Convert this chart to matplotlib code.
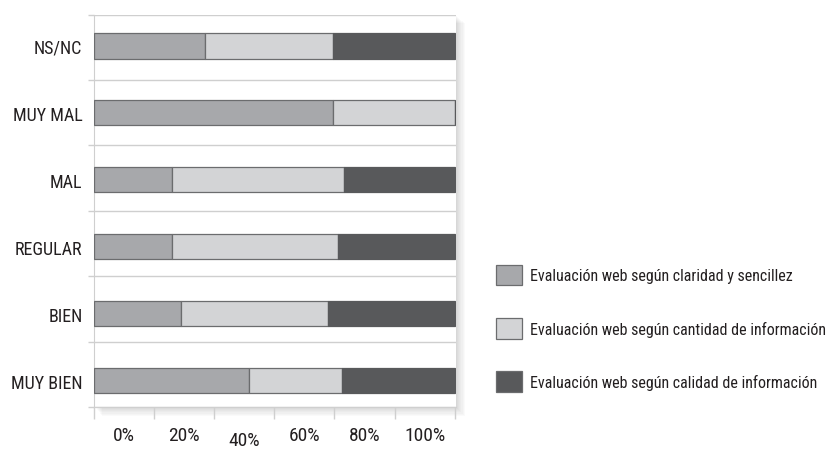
import matplotlib
matplotlib.use("Agg")
import matplotlib.pyplot as plt
from matplotlib.patches import Rectangle, Patch
import numpy as np

plt.rcParams["font.family"] = ["Roboto Condensed", "Archivo Narrow", "PT Sans Narrow",
                               "Liberation Sans Narrow", "Liberation Sans", "DejaVu Sans"]

categorias = ["MUY BIEN", "BIEN", "REGULAR", "MAL", "MUY MAL", "NS/NC"]
claridad = [42.9, 24.3, 21.7, 21.7, 66.2, 30.8]
cantidad = [25.9, 40.7, 46.1, 47.5, 33.8, 35.4]
calidad = [31.2, 35.0, 32.2, 30.8, 0.0, 33.8]
series = ["Evaluación web según claridad y sencillez",
          "Evaluación web según cantidad de información",
          "Evaluación web según calidad de información"]
etiquetas_x = ["0%", "20%", "40%", "60%", "80%", "100%"]

colores = ["#a7a8ab", "#d3d4d6", "#58595b"]
borde = "#6b6c6e"
gris_rejilla = "#cfcfcf"
texto = "#231f20"

fig = plt.figure(figsize=(8.35, 4.52), dpi=100)
caja = [0.112, 0.0973, 0.434, 0.868]
ax = fig.add_axes(caja)
ax.set_zorder(2)

# sombra suave a la derecha y debajo del área de trazado
for i in range(8):
    d = (i + 1) * 0.0022
    fig.patches.append(Rectangle((caja[0] + d * 0.6, caja[1] - d * 1.1), caja[2], caja[3],
                                 transform=fig.transFigure, facecolor="black",
                                 alpha=0.018, edgecolor="none", zorder=0))
fig.patches.append(Rectangle((caja[0], caja[1]), caja[2], caja[3], transform=fig.transFigure,
                             facecolor="white", edgecolor="none", zorder=0.5))
ax.set_facecolor("none")

y = np.arange(len(categorias))
izq = np.zeros(len(categorias))
for vals, col, nombre in zip([claridad, cantidad, calidad], colores, series):
    ec = borde if col != colores[2] else col
    ax.barh(y, vals, left=izq, height=0.374, color=col, edgecolor=ec,
            linewidth=0.9, label=nombre, zorder=3)
    izq = izq + np.array(vals)

ax.set_xlim(0, 100.3)
lo, hi = -0.396, 5.468
ax.set_ylim(lo, hi)

# marcas del eje x cada sexto, etiquetas centradas entre marcas
ax.set_xticks(np.linspace(0, 100, 7))
ax.set_xticklabels([])
ax.set_xticks(np.linspace(100 / 12, 100 - 100 / 12, 6), minor=True)
ax.set_xticklabels(etiquetas_x, minor=True, fontsize=14)
ax.tick_params(axis="x", which="major", length=8.5, width=1, color=gris_rejilla)
ax.tick_params(axis="x", which="minor", length=0, pad=14, labelcolor=texto)
for lab in ax.get_xticklabels(minor=True):
    if lab.get_text() == "40%":
        lab.set_y(-0.012)

ax.set_yticks(y)
ax.set_yticklabels(categorias, fontsize=13, color=texto)
# líneas de rejilla repartidas en seis franjas iguales
ax.set_yticks(np.linspace(lo, hi, 7), minor=True)
ax.tick_params(axis="y", which="major", length=0, pad=8)
ax.tick_params(axis="y", which="minor", length=4.5, width=1, color=gris_rejilla)
ax.grid(True, axis="y", which="minor", color=gris_rejilla, linewidth=1, zorder=1)

for lado in ["top", "right"]:
    ax.spines[lado].set_visible(False)
ax.spines["left"].set_color(gris_rejilla)
ax.spines["bottom"].set_color(gris_rejilla)

manijas = [Patch(facecolor=c, edgecolor=borde, linewidth=0.9) for c in colores]
fig.legend(manijas, series, loc="upper left", bbox_to_anchor=(0.594, 0.412),
           frameon=False, fontsize=11.5, handlelength=1.6, handleheight=1.6,
           handletextpad=0.55, labelspacing=2.05, borderaxespad=0, borderpad=0,
           labelcolor=texto)

fig.savefig("out.png", dpi=100)
